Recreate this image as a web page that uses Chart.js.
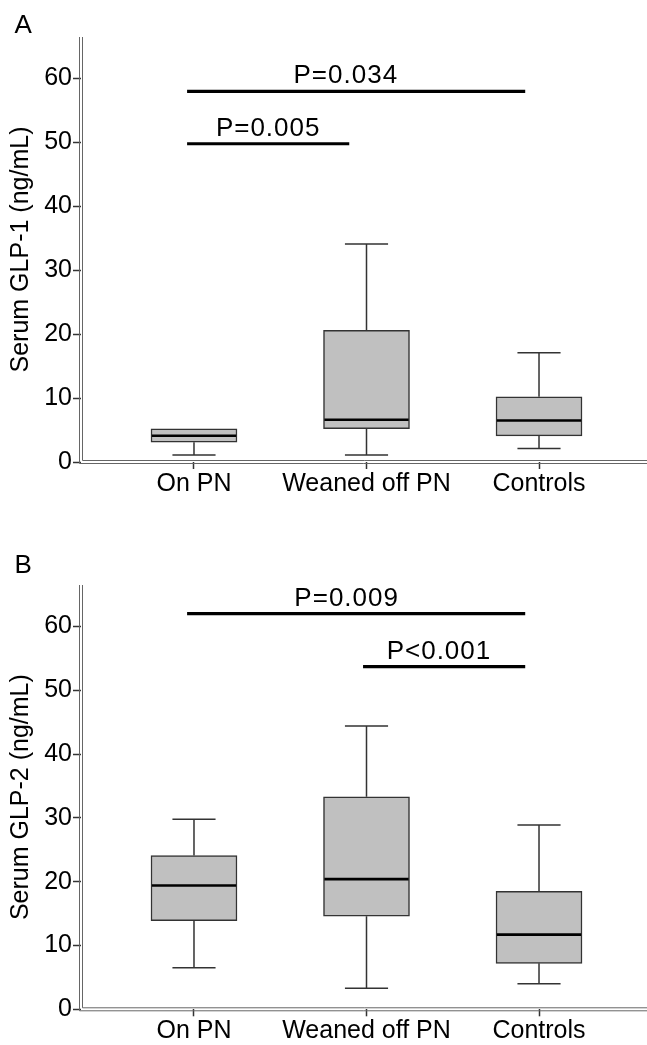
<!DOCTYPE html>
<html>
<head>
<meta charset="utf-8">
<script src="https://cdn.jsdelivr.net/npm/chart.js@4.4.1/dist/chart.umd.min.js"></script>
<style>
  html, body { margin: 0; padding: 0; background: #fff; }
  #wrap { position: relative; width: 647px; height: 1045px; overflow: hidden; }
  canvas { position: absolute; left: 0; }
  #cA { top: 0; }
  #cB { top: 548px; }
</style>
</head>
<body>
<div id="wrap">
  <canvas id="cA" width="647" height="548"></canvas>
  <canvas id="cB" width="647" height="497"></canvas>
</div>
<script>
// ---------- data ----------
const categories = ['On PN', 'Weaned off PN', 'Controls'];
const yTicks = [0, 10, 20, 30, 40, 50, 60];

// Panel A: Serum GLP-1 (ng/mL)
const glp1Min    = [1.1, 1.1, 2.1];
const glp1Q1     = [3.1, 5.2, 4.1];
const glp1Median = [4.1, 6.6, 6.5];
const glp1Q3     = [5.2, 20.6, 10.2];
const glp1Max    = [5.2, 34.1, 17.1];

// Panel B: Serum GLP-2 (ng/mL)
const glp2Min    = [6.5, 3.3, 4.0];
const glp2Q1     = [13.9, 14.6, 7.2];
const glp2Median = [19.4, 20.4, 11.7];
const glp2Q3     = [24.1, 33.3, 18.5];
const glp2Max    = [29.8, 44.4, 28.9];

// significance brackets (category positions 1..3, y in ng/mL)
const sigLabelsA = ['P=0.034', 'P=0.005'];
const sigFromA   = [0.96, 0.96];
const sigToA     = [2.92, 1.90];
const sigYA      = [58, 49.8];
const sigTextXA  = [1.88, 1.43];

const sigLabelsB = ['P=0.009', 'P<0.001'];
const sigFromB   = [0.96, 1.98];
const sigToB     = [2.92, 2.92];
const sigYB      = [62, 53.7];
const sigTextXB  = [1.885, 2.42];

// ---------- drawing ----------
const FONT = '"Liberation Sans", Arial, Helvetica, sans-serif';

function makePlugin(d) {
  return {
    id: 'boxExtras',
    beforeDatasetsDraw(chart) {
      const {ctx, scales: {x, y}} = chart;
      ctx.save();
      ctx.strokeStyle = '#333';
      ctx.lineWidth = 1.5;
      for (let i = 0; i < categories.length; i++) {
        const cx = x.getPixelForValue(i + 1);
        const capL = x.getPixelForValue(i + 1 - 0.125);
        const capR = x.getPixelForValue(i + 1 + 0.125);
        const yMin = y.getPixelForValue(d.min[i]);
        const yMax = y.getPixelForValue(d.max[i]);
        const yQ1 = y.getPixelForValue(d.q1[i]);
        const yQ3 = y.getPixelForValue(d.q3[i]);
        ctx.beginPath();
        ctx.moveTo(cx, yQ1); ctx.lineTo(cx, yMin);
        ctx.moveTo(capL, yMin); ctx.lineTo(capR, yMin);
        if (d.max[i] > d.q3[i]) {
          ctx.moveTo(cx, yQ3); ctx.lineTo(cx, yMax);
          ctx.moveTo(capL, yMax); ctx.lineTo(capR, yMax);
        }
        ctx.stroke();
      }
      ctx.restore();
    },
    afterDatasetsDraw(chart) {
      const {ctx, chartArea: a, scales: {x, y}} = chart;
      ctx.save();
      // medians
      ctx.strokeStyle = '#000';
      ctx.lineWidth = 2.6;
      for (let i = 0; i < categories.length; i++) {
        const l = x.getPixelForValue(i + 1 - 0.25) + 1;
        const r = x.getPixelForValue(i + 1 + 0.25) - 1;
        const ym = y.getPixelForValue(d.median[i]);
        ctx.beginPath(); ctx.moveTo(l, ym); ctx.lineTo(r, ym); ctx.stroke();
      }
      // double-line axes
      ctx.strokeStyle = '#666';
      ctx.lineWidth = 1;
      ctx.beginPath();
      ctx.moveTo(a.left - 1.5, a.top); ctx.lineTo(a.left - 1.5, a.bottom + 1.5);
      ctx.moveTo(a.left + 1.5, a.top); ctx.lineTo(a.left + 1.5, a.bottom - 1.5);
      ctx.moveTo(a.left - 1.5, a.bottom + 1.5); ctx.lineTo(a.right, a.bottom + 1.5);
      ctx.moveTo(a.left + 1.5, a.bottom - 1.5); ctx.lineTo(a.right, a.bottom - 1.5);
      ctx.stroke();
      // significance brackets
      ctx.strokeStyle = '#000';
      ctx.lineWidth = 3.2;
      ctx.fillStyle = '#000';
      ctx.font = '26px ' + FONT;
      ctx.textAlign = 'center';
      ctx.textBaseline = 'alphabetic';
      try { ctx.letterSpacing = '1px'; } catch (e) {}
      for (let i = 0; i < d.sigLabels.length; i++) {
        const yy = y.getPixelForValue(d.sigY[i]);
        ctx.beginPath();
        ctx.moveTo(x.getPixelForValue(d.sigFrom[i]), yy);
        ctx.lineTo(x.getPixelForValue(d.sigTo[i]), yy);
        ctx.stroke();
        ctx.fillText(d.sigLabels[i], x.getPixelForValue(d.sigTextX[i]), yy - 8);
      }
      try { ctx.letterSpacing = '0px'; } catch (e) {}
      // panel letter
      ctx.textAlign = 'left';
      ctx.font = '26px ' + FONT;
      ctx.fillText(d.letter, 14.5, d.letterBaseline);
      ctx.restore();
    }
  };
}

function makeChart(id, h, d) {
  const el = document.getElementById(id);
  return new Chart(el, {
    type: 'bar',
    data: {
      datasets: [{
        data: categories.map((c, i) => ({x: i + 1, y: [d.q1[i], d.q3[i]]})),
        backgroundColor: '#c0c0c0',
        borderColor: '#333',
        borderWidth: 1.5,
        borderSkipped: false,
        barThickness: 86
      }]
    },
    options: {
      responsive: false,
      devicePixelRatio: 1,
      animation: false,
      layout: { padding: { top: 37, left: 0, right: 0, bottom: 0 } },
      plugins: { legend: { display: false }, tooltip: { enabled: false } },
      scales: {
        x: {
          type: 'linear',
          offset: false,
          min: 0.345,
          max: 3.626,
          afterBuildTicks: s => { s.ticks = categories.map((c, i) => ({value: i + 1})); },
          afterFit: s => { s.height = h - d.bottom; s.paddingLeft = 0; s.paddingRight = 0; },
          ticks: {
            callback: v => categories[v - 1] || '',
            font: { family: FONT, size: 25 },
            color: '#000',
            padding: 0,
            maxRotation: 0,
            autoSkip: false
          },
          grid: { display: true, offset: false, drawOnChartArea: false, drawTicks: true, tickLength: 7, tickColor: '#333', tickWidth: 1.5 },
          border: { display: false }
        },
        y: {
          min: 0,
          max: 66.5,
          afterBuildTicks: s => { s.ticks = yTicks.map(v => ({value: v})); },
          afterFit: s => { s.width = 81; s.paddingTop = 0; s.paddingBottom = 0; },
          ticks: {
            font: { family: FONT, size: 25 },
            color: '#000',
            padding: 1
          },
          title: {
            display: true,
            text: d.title,
            font: { family: FONT, size: 25 },
            color: '#000',
            padding: { top: 6, bottom: 0 }
          },
          grid: { display: true, drawOnChartArea: false, drawTicks: true, tickLength: 8, tickColor: '#333', tickWidth: 1.5 },
          border: { display: false }
        }
      }
    },
    plugins: [makePlugin(d)]
  });
}

makeChart('cA', 548, {
  min: glp1Min, q1: glp1Q1, median: glp1Median, q3: glp1Q3, max: glp1Max,
  sigLabels: sigLabelsA, sigFrom: sigFromA, sigTo: sigToA, sigY: sigYA, sigTextX: sigTextXA,
  title: 'Serum GLP-1 (ng/mL)', letter: 'A', letterBaseline: 33, bottom: 462
});
makeChart('cB', 497, {
  min: glp2Min, q1: glp2Q1, median: glp2Median, q3: glp2Q3, max: glp2Max,
  sigLabels: sigLabelsB, sigFrom: sigFromB, sigTo: sigToB, sigY: sigYB, sigTextX: sigTextXB,
  title: 'Serum GLP-2 (ng/mL)', letter: 'B', letterBaseline: 25, bottom: 461.3
});
</script>
</body>
</html>
